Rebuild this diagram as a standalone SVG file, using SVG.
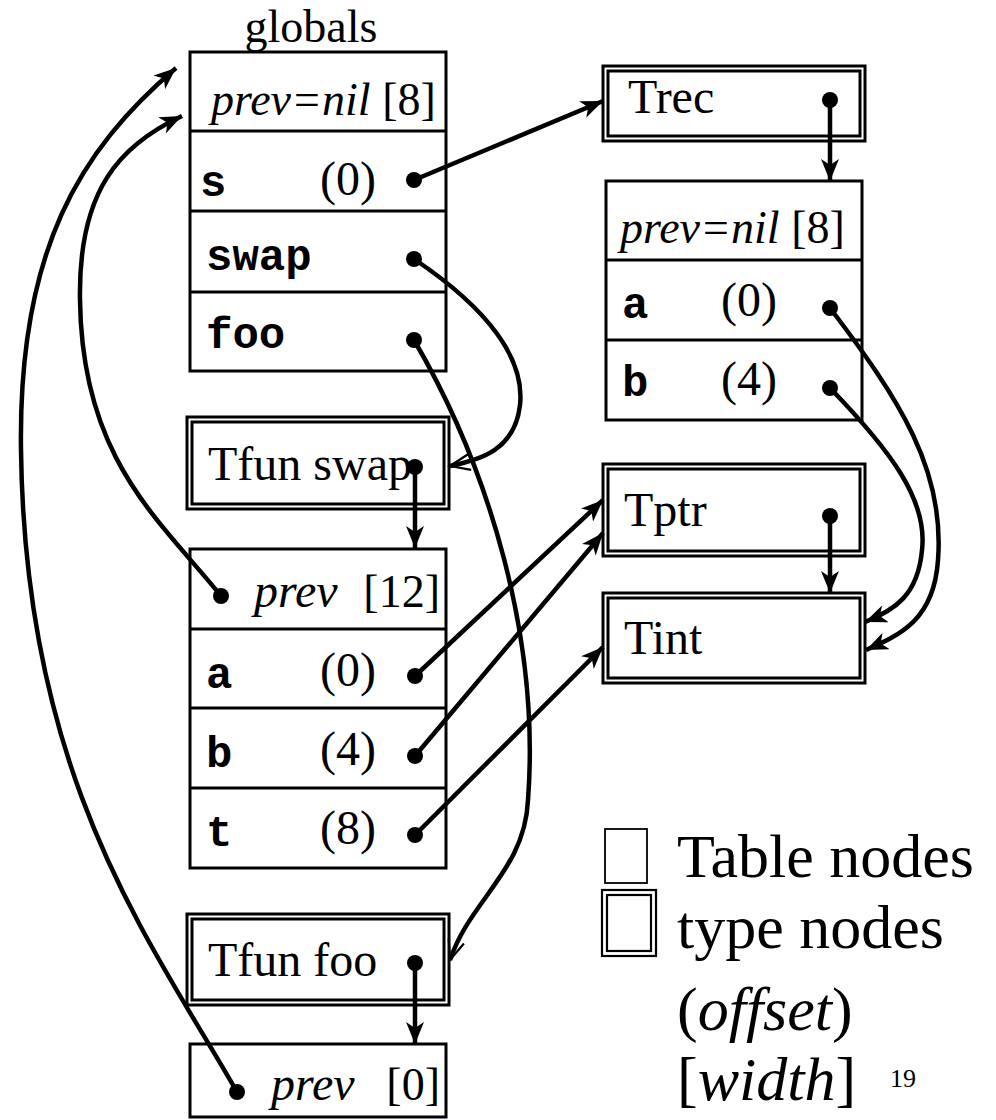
<svg xmlns="http://www.w3.org/2000/svg" width="996" height="1120" viewBox="0 0 996 1120">
<style>
.bx{fill:none;stroke:#000;stroke-width:3}
.dv{stroke:#000;stroke-width:3}
.t{font-family:"Liberation Serif","Times New Roman",serif;font-size:46px;fill:#000}
.tl{font-family:"Liberation Serif","Times New Roman",serif;font-size:48px;fill:#000}
.i{font-style:italic}
.m{font-family:"Liberation Mono","Courier New",monospace;font-weight:bold;font-size:44px;fill:#000}
.c{fill:none;stroke:#000;stroke-width:4.5}
.dot{fill:#000}
.lg{font-family:"Liberation Serif","Times New Roman",serif;font-size:62px;fill:#000}
</style>
<defs>
<marker id="ah" markerWidth="26" markerHeight="18" refX="22" refY="9" orient="auto" markerUnits="userSpaceOnUse">
<path d="M0,0 L22,9 L0,18 L6,9 z" fill="#000"/>
</marker>
<marker id="ao" markerWidth="26" markerHeight="20" refX="22" refY="10" orient="auto" markerUnits="userSpaceOnUse">
<path d="M2,2 L22,10 L2,18" fill="none" stroke="#000" stroke-width="2.2"/>
</marker>
</defs>
<rect width="996" height="1120" fill="#fff"/>

<g id="globals">
<text class="t" x="311" y="42" text-anchor="middle">globals</text>
<rect class="bx" x="190" y="52" width="256" height="319"/>
<line class="dv" x1="190" y1="131" x2="446" y2="131"/>
<line class="dv" x1="190" y1="211" x2="446" y2="211"/>
<line class="dv" x1="190" y1="292" x2="446" y2="292"/>
<text class="t" x="211" y="115"><tspan class="i">prev=nil</tspan> [8]</text>
<text class="m" x="200" y="196">s</text>
<text class="tl" x="376" y="195" text-anchor="end">(0)</text>
<text class="m" x="206" y="270">swap</text>
<text class="m" x="206" y="348">foo</text>
</g>

<g id="trec">
<rect class="bx" x="603" y="66" width="262" height="75"/>
<rect class="bx" x="608" y="71" width="252" height="65"/>
<text class="tl" x="628" y="113">Trec</text>
</g>

<g id="trec-table">
<rect class="bx" x="606" y="181" width="256" height="239"/>
<line class="dv" x1="606" y1="260" x2="862" y2="260"/>
<line class="dv" x1="606" y1="340" x2="862" y2="340"/>
<text class="t" x="620" y="243"><tspan class="i">prev=nil</tspan> [8]</text>
<text class="m" x="622" y="318">a</text>
<text class="tl" x="777" y="316" text-anchor="end">(0)</text>
<text class="m" x="622" y="396">b</text>
<text class="tl" x="777" y="395" text-anchor="end">(4)</text>
</g>

<g id="tfun-swap">
<rect class="bx" x="187" y="417" width="262" height="92"/>
<rect class="bx" x="192" y="422" width="252" height="82"/>
<text class="tl" x="208" y="480">Tfun swap</text>
</g>

<g id="swap-table">
<rect class="bx" x="190" y="549" width="256" height="319"/>
<line class="dv" x1="190" y1="629" x2="446" y2="629"/>
<line class="dv" x1="190" y1="708" x2="446" y2="708"/>
<line class="dv" x1="190" y1="788" x2="446" y2="788"/>
<text class="tl i" x="254" y="607">prev</text>
<text class="t" x="440" y="607" text-anchor="end">[12]</text>
<text class="m" x="206" y="688">a</text>
<text class="tl" x="376" y="686" text-anchor="end">(0)</text>
<text class="m" x="206" y="767">b</text>
<text class="tl" x="376" y="765" text-anchor="end">(4)</text>
<text class="m" x="206" y="846">t</text>
<text class="tl" x="376" y="844" text-anchor="end">(8)</text>
</g>

<g id="tptr">
<rect class="bx" x="603" y="464" width="262" height="92"/>
<rect class="bx" x="608" y="469" width="252" height="82"/>
<text class="tl" x="624" y="526">Tptr</text>
</g>

<g id="tint">
<rect class="bx" x="603" y="593" width="262" height="90"/>
<rect class="bx" x="608" y="598" width="252" height="80"/>
<text class="tl" x="624" y="654">Tint</text>
</g>

<g id="tfun-foo">
<rect class="bx" x="187" y="914" width="262" height="91"/>
<rect class="bx" x="192" y="919" width="252" height="81"/>
<text class="tl" x="208" y="976">Tfun foo</text>
</g>

<g id="foo-table">
<rect class="bx" x="190" y="1044" width="256" height="73"/>
<text class="tl i" x="271" y="1100">prev</text>
<text class="t" x="440" y="1100" text-anchor="end">[0]</text>
</g>

<g id="connectors">
<path class="c" d="M237 1092 C150 940 25 780 21 450 C18 250 80 150 176 68" marker-end="url(#ah)"/>
<path class="c" d="M221 596 C160 520 82 460 80 300 C78 190 120 145 182 116" marker-end="url(#ah)"/>
<path class="c" d="M414 180 L603 101" marker-end="url(#ah)"/>
<path class="c" d="M414 259 C490 310 525 360 520 405 C515 450 480 460 450 466" marker-end="url(#ao)"/>
<path class="c" d="M414 340 C490 470 540 640 528 800 C525 870 470 900 450 960" marker-end="url(#ao)"/>
<path class="c" d="M830 100 L830 181" marker-end="url(#ah)"/>
<path class="c" d="M415 467 L415 548" marker-end="url(#ah)"/>
<path class="c" d="M830 516 L830 593" marker-end="url(#ah)"/>
<path class="c" d="M415 963 L415 1044" marker-end="url(#ah)"/>
<path class="c" d="M830 308 C900 400 945 470 938 560 C934 620 900 635 866 650" marker-end="url(#ah)"/>
<path class="c" d="M830 388 C890 450 928 500 922 550 C918 595 895 610 865 622" marker-end="url(#ah)"/>
<path class="c" d="M415 676 L603 500" marker-end="url(#ah)"/>
<path class="c" d="M415 756 L603 533" marker-end="url(#ah)"/>
<path class="c" d="M415 835 L603 647" marker-end="url(#ah)"/>
<circle class="dot" cx="414" cy="180" r="8"/>
<circle class="dot" cx="414" cy="259" r="8"/>
<circle class="dot" cx="414" cy="340" r="8"/>
<circle class="dot" cx="830" cy="100" r="8"/>
<circle class="dot" cx="830" cy="308" r="8"/>
<circle class="dot" cx="830" cy="388" r="8"/>
<circle class="dot" cx="415" cy="467" r="8"/>
<circle class="dot" cx="221" cy="596" r="8"/>
<circle class="dot" cx="415" cy="676" r="8"/>
<circle class="dot" cx="415" cy="756" r="8"/>
<circle class="dot" cx="415" cy="835" r="8"/>
<circle class="dot" cx="830" cy="516" r="8"/>
<circle class="dot" cx="415" cy="963" r="8"/>
<circle class="dot" cx="237" cy="1092" r="8"/>
</g>

<g id="legend">
<rect x="605" y="829" width="42" height="54" fill="none" stroke="#000" stroke-width="1.8"/>
<rect x="602" y="890" width="54" height="66" fill="none" stroke="#000" stroke-width="2.2"/>
<rect x="607" y="895" width="44" height="56" fill="none" stroke="#000" stroke-width="2.2"/>
<text class="lg" x="677" y="877">Table nodes</text>
<text class="lg" x="677" y="948">type nodes</text>
<text class="lg" x="677" y="1030">(<tspan font-style="italic">offset</tspan>)</text>
<text class="lg" x="677" y="1100">[<tspan font-style="italic">width</tspan>]</text>
<text x="890" y="1087" font-family="Liberation Serif, serif" font-size="26">19</text>
</g>
</svg>
